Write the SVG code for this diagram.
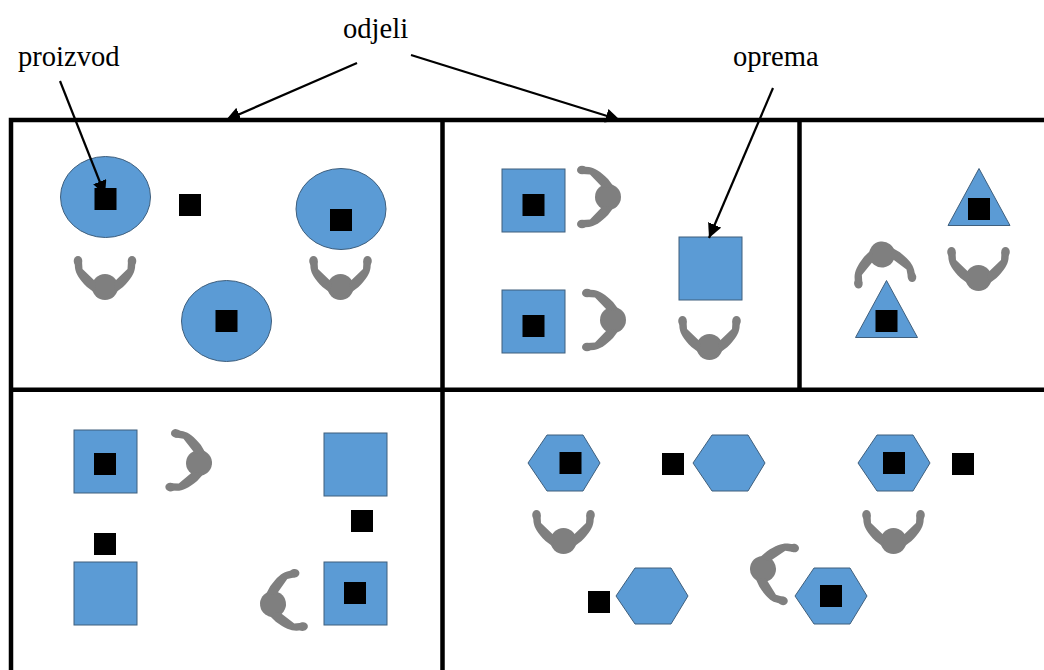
<svg xmlns="http://www.w3.org/2000/svg" width="1044" height="670" viewBox="0 0 1044 670">
<style>
text{font-family:"Liberation Serif","Times New Roman",serif;font-size:28.6px;fill:#000}
.s{fill:#5b9bd5;stroke:#3f5f7d;stroke-width:1}
.p{fill:#000}
.f{fill:none;stroke:#000;stroke-width:4.500}
.c{fill:none;stroke:#000;stroke-width:2.200}
.w{fill:#7f7f7f}
</style>
<defs>
<marker id="ah" markerWidth="6.500" markerHeight="6.400" refX="6.500" refY="3.200" orient="auto" markerUnits="strokeWidth"><path d="M0,0L6.500,3.200L0,6.400Z" fill="#000"/></marker>
<g id="worker"><circle class="w" r="13"/><path class="w" d="M-30.500,-26L-30,-19C-29,-13 -26,-8 -18,0L-10,6L-9,-5L-22.500,-18L-23,-26ZM30.500,-26L30,-19C29,-13 26,-8 18,0L10,6L9,-5L22.500,-18L23,-26Z"/><ellipse class="w" cx="-27" cy="-26" rx="4.300" ry="5"/><ellipse class="w" cx="27" cy="-26" rx="4.300" ry="5"/></g>
<rect id="sq" x="-31.500" y="-31.500" width="63" height="63" class="s"/>
<path id="hex" d="M-36,0L-17,-28H19L36,0L19,28H-17Z" class="s"/>
<path id="tri" d="M0,-28.500L31,28.500H-31Z" class="s"/>
<ellipse id="el" rx="45" ry="40.500" class="s"/>
<rect id="pr" x="-11" y="-11" width="22" height="22" class="p"/>
</defs>
<g id="frames"><path class="f" d="M11,670V120H1044M11,389.700H1044M442.500,120V670M799.500,120V389.700"/></g>
<g id="equipment">
<use id="n-e1" href="#el" x="105.500" y="197"/>
<use id="n-e2" href="#el" x="341" y="209"/>
<use id="n-e3" href="#el" x="226.500" y="321"/>
<use id="n-s1" href="#sq" x="533.500" y="200.500"/>
<use id="n-s2" href="#sq" x="533.500" y="321.500"/>
<use id="n-s3" href="#sq" x="710.500" y="268.500"/>
<use id="n-s4" href="#sq" x="105.500" y="461.500"/>
<use id="n-s5" href="#sq" x="355.500" y="464.500"/>
<use id="n-s6" href="#sq" x="105.500" y="593.500"/>
<use id="n-s7" href="#sq" x="355.500" y="593.500"/>
<use id="n-t1" href="#tri" x="979" y="197"/>
<use id="n-t2" href="#tri" x="886.500" y="309"/>
<use id="n-h1" href="#hex" x="564" y="463"/>
<use id="n-h2" href="#hex" x="729" y="463"/>
<use id="n-h3" href="#hex" x="894" y="463"/>
<use id="n-h4" href="#hex" x="652" y="596"/>
<use id="n-h5" href="#hex" x="831" y="596"/>
</g>
<g id="workers">
<use id="w1" href="#worker" transform="translate(105,287)"/>
<use id="w2" href="#worker" transform="translate(340.500,287)"/>
<use id="w3" href="#worker" transform="translate(608,197) rotate(-90)"/>
<use id="w4" href="#worker" transform="translate(613,320) rotate(-90)"/>
<use id="w5" href="#worker" transform="translate(709.500,347)"/>
<use id="w6" href="#worker" transform="translate(882,254.500) rotate(173)"/>
<use id="w7" href="#worker" transform="translate(978.500,278)"/>
<use id="w8" href="#worker" transform="translate(199,463) rotate(-84)"/>
<use id="w9" href="#worker" transform="translate(273,604) rotate(81)"/>
<use id="w10" href="#worker" transform="translate(563.500,541)"/>
<use id="w11" href="#worker" transform="translate(893.500,541)"/>
<use id="w12" href="#worker" transform="translate(763,569) rotate(102)"/>
</g>
<g id="products">
<use href="#pr" x="105.500" y="199"/>
<use href="#pr" x="190" y="205"/>
<use href="#pr" x="341" y="220"/>
<use href="#pr" x="226.500" y="321"/>
<use href="#pr" x="533.500" y="205"/>
<use href="#pr" x="533.500" y="326"/>
<use href="#pr" x="979" y="209"/>
<use href="#pr" x="886.500" y="321"/>
<use href="#pr" x="105" y="464"/>
<use href="#pr" x="362" y="521"/>
<use href="#pr" x="105" y="544"/>
<use href="#pr" x="355" y="593"/>
<use href="#pr" x="570.500" y="463"/>
<use href="#pr" x="673" y="464"/>
<use href="#pr" x="894" y="463"/>
<use href="#pr" x="963" y="464"/>
<use href="#pr" x="599" y="602"/>
<use href="#pr" x="831" y="596"/>
</g>
<g id="connectors">
<path class="c" marker-end="url(#ah)" d="M357,63L226,120"/>
<path class="c" marker-end="url(#ah)" d="M411,55L620,120"/>
<path class="c" marker-end="url(#ah)" d="M773,88L709,238"/>
<path class="c" marker-end="url(#ah)" d="M60,81L105,195"/>
</g>
<g id="labels">
<text x="18" y="66">proizvod</text>
<text x="343" y="38">odjeli</text>
<text x="733" y="66">oprema</text>
</g>
</svg>
